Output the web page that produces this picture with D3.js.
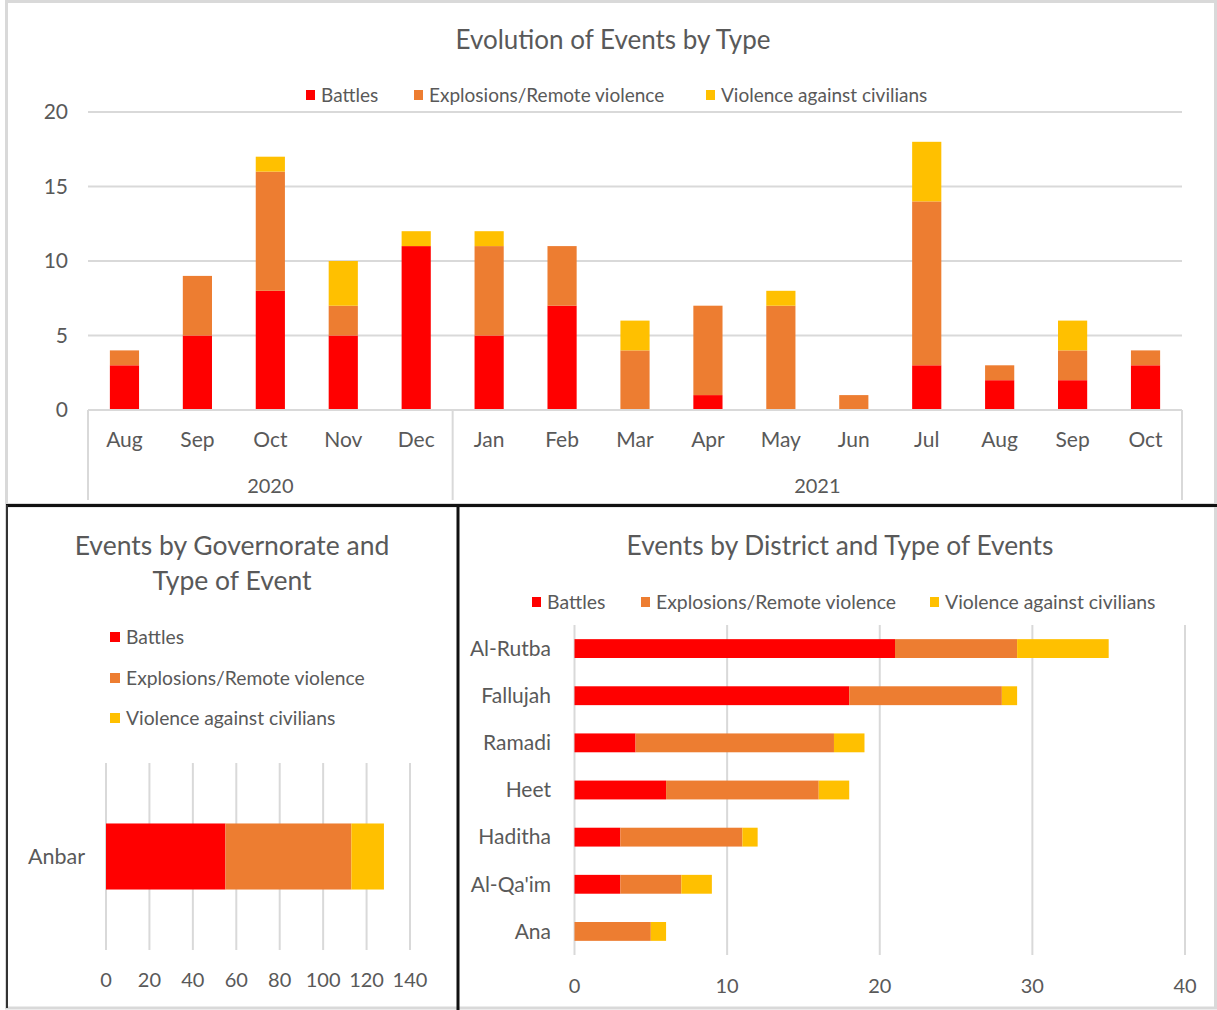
<!DOCTYPE html>
<html>
<head>
<meta charset="utf-8">
<script src="https://d3js.org/d3.v7.min.js"></script>
<style>
  html, body { margin:0; padding:0; background:#fff; }
  svg { display:block; }
  text { font-family: Lato, "Open Sans", sans-serif; fill:#595959; }
</style>
</head>
<body>
<svg id="chart"></svg>
<script>
// ---- data ----
const seriesNames = ["Battles", "Explosions/Remote violence", "Violence against civilians"]
const seriesColors = ["#ff0000", "#ed7d31", "#ffc000"]

const months = ["Aug","Sep","Oct","Nov","Dec","Jan","Feb","Mar","Apr","May","Jun","Jul","Aug","Sep","Oct"]
const monthYear = ["2020","2020","2020","2020","2020","2021","2021","2021","2021","2021","2021","2021","2021","2021","2021"]
const battlesByMonth   = [3, 5, 8, 5, 11, 5, 7, 0, 1, 0, 0, 3, 2, 2, 3]
const explosionsByMonth = [1, 4, 8, 2, 0, 6, 4, 4, 6, 7, 1, 11, 1, 2, 1]
const civiliansByMonth  = [0, 0, 1, 3, 1, 1, 0, 2, 0, 1, 0, 4, 0, 2, 0]
const monthTicks = [0, 5, 10, 15, 20]

const governorates = ["Anbar"]
const battlesByGov = [55]
const explosionsByGov = [58]
const civiliansByGov = [15]
const govTicks = [0, 20, 40, 60, 80, 100, 120, 140]

const districts = ["Al-Rutba","Fallujah","Ramadi","Heet","Haditha","Al-Qa'im","Ana"]
const battlesByDistrict = [21, 18, 4, 6, 3, 3, 0]
const explosionsByDistrict = [8, 10, 13, 10, 8, 4, 5]
const civiliansByDistrict = [6, 1, 2, 2, 1, 2, 1]
const districtTicks = [0, 10, 20, 30, 40]

const W = 1217, H = 1010
const svg = d3.select("#chart").attr("width", W).attr("height", H)
const grid = "#d9d9d9"

const keys = ["b","e","v"]
const stack = d3.stack().keys(keys)
function rows(cats, b, e, v) {
  return cats.map((c, i) => ({cat: c, idx: i, b: b[i], e: e[i], v: v[i]}))
}

// ---- panel borders ----
svg.append("rect").attr("x", 6.5).attr("y", 1.5).attr("width", W - 8).attr("height", 503)
  .attr("fill", "none").attr("stroke", grid).attr("stroke-width", 3)
svg.append("rect").attr("x", 6.5).attr("y", 506).attr("width", W - 8).attr("height", 502)
  .attr("fill", "none").attr("stroke", grid).attr("stroke-width", 3)
svg.append("line").attr("x1", 6).attr("x2", W).attr("y1", 505.5).attr("y2", 505.5)
  .attr("stroke", "#111").attr("stroke-width", 3)
svg.append("line").attr("x1", 458).attr("x2", 458).attr("y1", 505).attr("y2", H)
  .attr("stroke", "#111").attr("stroke-width", 3)
svg.append("line").attr("x1", 7).attr("x2", 7).attr("y1", 505).attr("y2", H - 2)
  .attr("stroke", "#333").attr("stroke-width", 2)

// horizontal legend helper
function legendRow(g, items) {
  items.forEach(it => {
    g.append("rect").attr("x", it.x).attr("y", it.y - 5).attr("width", 9).attr("height", 10)
      .attr("fill", it.color)
    g.append("text").attr("x", it.x + 15).attr("y", it.y).attr("dy", "0.35em")
      .style("font-size", it.size + "px").text(it.name)
  })
}

// ================= TOP: evolution by month =================
const topG = svg.append("g")
const monthData = rows(months, battlesByMonth, explosionsByMonth, civiliansByMonth)
const x1 = d3.scaleBand().domain(monthData.map(d => d.idx)).range([88, 1182])
  .paddingInner(0.6).paddingOuter(0.3)
const y1 = d3.scaleLinear().domain([0, 20]).range([410, 112])

topG.append("text").attr("x", 613).attr("y", 40).attr("dy", "0.35em")
  .attr("text-anchor", "middle").style("font-size", "26px").text("Evolution of Events by Type")

legendRow(topG, [
  {x: 306, y: 95, color: seriesColors[0], name: seriesNames[0], size: 19},
  {x: 414, y: 95, color: seriesColors[1], name: seriesNames[1], size: 19},
  {x: 706, y: 95, color: seriesColors[2], name: seriesNames[2], size: 19}
])

topG.append("g").selectAll("line").data(monthTicks.filter(t => t > 0)).join("line")
  .attr("x1", 88).attr("x2", 1182).attr("y1", d => y1(d)).attr("y2", d => y1(d))
  .attr("stroke", grid).attr("stroke-width", 2)

topG.append("g").selectAll("text").data(monthTicks).join("text")
  .attr("x", 68).attr("y", d => y1(d)).attr("dy", "0.35em").attr("text-anchor", "end")
  .style("font-size", "21px").text(d => d)

topG.append("g").selectAll("g").data(stack(monthData)).join("g")
  .attr("fill", (d, i) => seriesColors[i])
  .selectAll("rect").data(d => d).join("rect")
  .attr("x", d => x1(d.data.idx)).attr("width", x1.bandwidth())
  .attr("y", d => y1(d[1])).attr("height", d => y1(d[0]) - y1(d[1]))

// category axis: months, then years
topG.append("line").attr("x1", 88).attr("x2", 1182).attr("y1", y1(0)).attr("y2", y1(0))
  .attr("stroke", grid).attr("stroke-width", 2)
const years = Array.from(new Set(monthYear))
const firstOfYear = years.slice(1).map(yr => monthYear.indexOf(yr))
// separator sits where the first band of a new year starts (outer padding reaches the edge)
const seps = [88, ...firstOfYear.map(i => x1(i) - x1.step() * x1.paddingInner() / 2), 1182]
topG.append("g").selectAll("line").data(seps).join("line")
  .attr("x1", d => d).attr("x2", d => d).attr("y1", y1(0)).attr("y2", 500)
  .attr("stroke", grid).attr("stroke-width", 2)
topG.append("g").selectAll("text").data(monthData).join("text")
  .attr("x", d => x1(d.idx) + x1.bandwidth() / 2).attr("y", 440).attr("dy", "0.35em")
  .attr("text-anchor", "middle").style("font-size", "21px").text(d => d.cat)
const yearMids = years.map((yr, i) => ({year: yr, mid: (seps[i] + seps[i + 1]) / 2}))
topG.append("g").selectAll("text").data(yearMids).join("text")
  .attr("x", d => d.mid).attr("y", 486).attr("dy", "0.35em")
  .attr("text-anchor", "middle").style("font-size", "20px").text(d => d.year)

// ================= BOTTOM LEFT: governorate =================
const left = svg.append("g")
const govData = rows(governorates, battlesByGov, explosionsByGov, civiliansByGov)
const x2 = d3.scaleLinear().domain([0, 140]).range([106, 410])
const y2 = d3.scaleBand().domain(governorates).range([763, 950]).padding(0.478)

left.append("text").attr("x", 232).attr("y", 546).attr("dy", "0.35em")
  .attr("text-anchor", "middle").style("font-size", "26.5px").text("Events by Governorate and")
left.append("text").attr("x", 232).attr("y", 581).attr("dy", "0.35em")
  .attr("text-anchor", "middle").style("font-size", "26.5px").text("Type of Event")

seriesNames.forEach((n, i) => {
  left.append("rect").attr("x", 110).attr("y", [637, 678, 718][i] - 5).attr("width", 10).attr("height", 10)
    .attr("fill", seriesColors[i])
  left.append("text").attr("x", 126).attr("y", [637, 678, 718][i]).attr("dy", "0.35em")
    .style("font-size", "19.3px").text(n)
})

left.append("g").selectAll("line").data(govTicks).join("line")
  .attr("x1", d => x2(d)).attr("x2", d => x2(d)).attr("y1", 763).attr("y2", 950)
  .attr("stroke", grid).attr("stroke-width", 2)
left.append("g").selectAll("text").data(govTicks).join("text")
  .attr("x", d => x2(d)).attr("y", 980).attr("dy", "0.35em").attr("text-anchor", "middle")
  .style("font-size", "20px").text(d => d)

left.append("g").selectAll("g").data(stack(govData)).join("g")
  .attr("fill", (d, i) => seriesColors[i])
  .selectAll("rect").data(d => d).join("rect")
  .attr("y", d => y2(d.data.cat)).attr("height", y2.bandwidth())
  .attr("x", d => x2(d[0])).attr("width", d => x2(d[1]) - x2(d[0]))

left.append("g").selectAll("text").data(governorates).join("text")
  .attr("x", 85).attr("y", d => y2(d) + y2.bandwidth() / 2).attr("dy", "0.35em")
  .attr("text-anchor", "end").style("font-size", "21.5px").text(d => d)

// ================= BOTTOM RIGHT: district =================
const right = svg.append("g")
const distData = rows(districts, battlesByDistrict, explosionsByDistrict, civiliansByDistrict)
const x3 = d3.scaleLinear().domain([0, 40]).range([574.5, 1185])
const y3 = d3.scaleBand().domain(districts).range([625, 955]).paddingInner(0.6).paddingOuter(0.3)

right.append("text").attr("x", 840).attr("y", 546).attr("dy", "0.35em")
  .attr("text-anchor", "middle").style("font-size", "26.3px").text("Events by District and Type of Events")

legendRow(right, [
  {x: 532, y: 602, color: seriesColors[0], name: seriesNames[0], size: 19.4},
  {x: 641, y: 602, color: seriesColors[1], name: seriesNames[1], size: 19.4},
  {x: 930, y: 602, color: seriesColors[2], name: seriesNames[2], size: 19.4}
])

right.append("g").selectAll("line").data(districtTicks).join("line")
  .attr("x1", d => x3(d)).attr("x2", d => x3(d)).attr("y1", 625).attr("y2", 955)
  .attr("stroke", grid).attr("stroke-width", 2)
right.append("g").selectAll("text").data(districtTicks).join("text")
  .attr("x", d => x3(d)).attr("y", 986).attr("dy", "0.35em").attr("text-anchor", "middle")
  .style("font-size", "20px").text(d => d)

right.append("g").selectAll("g").data(stack(distData)).join("g")
  .attr("fill", (d, i) => seriesColors[i])
  .selectAll("rect").data(d => d).join("rect")
  .attr("y", d => y3(d.data.cat)).attr("height", y3.bandwidth())
  .attr("x", d => x3(d[0])).attr("width", d => x3(d[1]) - x3(d[0]))

right.append("g").selectAll("text").data(districts).join("text")
  .attr("x", 551).attr("y", d => y3(d) + y3.bandwidth() / 2).attr("dy", "0.35em")
  .attr("text-anchor", "end").style("font-size", "21px").text(d => d)
</script>
</body>
</html>
